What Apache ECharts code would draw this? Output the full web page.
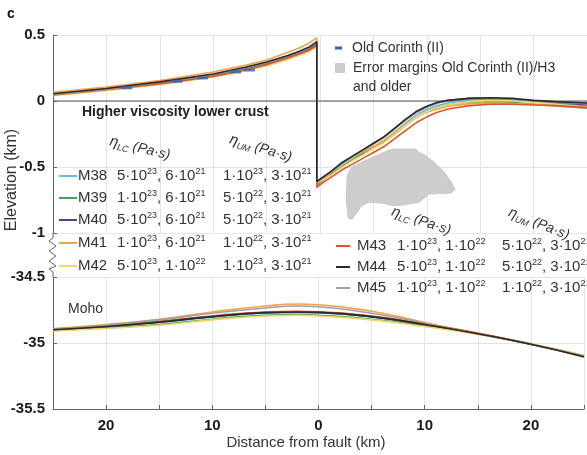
<!DOCTYPE html>
<html><head><meta charset="utf-8">
<script src="https://cdn.jsdelivr.net/npm/echarts@6/dist/echarts.min.js"></script>
<style>html,body{margin:0;padding:0;background:#fff}#c{width:587px;height:455px}</style>
</head><body><div id="c"></div>
<script>
// ---------- data ----------
const models = ['M38','M39','M40','M41','M42','M43','M44','M45'];
const colors = ['#5fbbe9','#3fa35c','#5b3c8c','#f2a24c','#f6d565','#e2542c','#2a2a2a','#a0a0a0'];
const drawOrder = [0, 1, 2, 3, 4, 5, 7, 6];
const lcVisc = ['5·10^23, 6·10^21','1·10^23, 6·10^21','5·10^23, 6·10^21','1·10^23, 6·10^21','5·10^23, 1·10^22','1·10^23, 1·10^22','5·10^23, 1·10^22','1·10^23, 1·10^22'];
const umVisc = ['1·10^23, 3·10^21','5·10^22, 3·10^21','5·10^22, 3·10^21','1·10^22, 3·10^21','1·10^23, 3·10^21','5·10^22, 3·10^21','5·10^22, 3·10^21','1·10^22, 3·10^21'];

// surface elevation (km), x = distance from fault (km, negative = footwall side)
const xTop = [-25,-20,-15,-10,-7,-5,-3,-2,-1,-0.3, -0.3,1,2,3,4,5,6,7,8,9,10,11,12,14,16,18,20,22,25];
const elevM38 = [0.05,0.09,0.135,0.195,0.245,0.285,0.335,0.365,0.395,0.435, -0.64,-0.56,-0.495,-0.445,-0.395,-0.35,-0.30,-0.235,-0.17,-0.105,-0.065,-0.035,-0.015,0.01,0.015,0.01,-0.005,-0.02,-0.04];
const elevM39 = [0.045,0.085,0.13,0.19,0.24,0.28,0.33,0.36,0.39,0.43, -0.63,-0.56,-0.50,-0.45,-0.40,-0.355,-0.31,-0.25,-0.185,-0.125,-0.08,-0.05,-0.03,-0.01,-0.005,-0.01,-0.025,-0.035,-0.055];
const elevM40 = [0.05,0.09,0.14,0.20,0.25,0.29,0.34,0.37,0.40,0.44, -0.62,-0.54,-0.475,-0.425,-0.375,-0.325,-0.275,-0.21,-0.145,-0.085,-0.045,-0.015,0.005,0.02,0.02,0.015,0.0,-0.01,-0.03];
const elevM41 = [0.065,0.105,0.155,0.22,0.27,0.31,0.37,0.40,0.44,0.48, -0.66,-0.54,-0.475,-0.43,-0.385,-0.345,-0.30,-0.24,-0.18,-0.125,-0.085,-0.06,-0.04,-0.02,-0.015,-0.02,-0.025,-0.035,-0.05];
const elevM42 = [0.04,0.08,0.125,0.18,0.23,0.265,0.315,0.345,0.375,0.41, -0.62,-0.565,-0.505,-0.455,-0.41,-0.36,-0.315,-0.25,-0.185,-0.125,-0.08,-0.05,-0.03,-0.005,0.005,0.0,-0.01,-0.025,-0.05];
const elevM43 = [0.045,0.085,0.13,0.185,0.235,0.275,0.325,0.355,0.385,0.42, -0.65,-0.58,-0.525,-0.48,-0.435,-0.39,-0.345,-0.285,-0.225,-0.165,-0.12,-0.085,-0.06,-0.035,-0.025,-0.025,-0.03,-0.035,-0.05];
const elevM44 = [0.055,0.095,0.145,0.205,0.255,0.295,0.345,0.375,0.41,0.45, -0.61,-0.535,-0.47,-0.42,-0.37,-0.32,-0.27,-0.205,-0.14,-0.08,-0.04,-0.01,0.005,0.02,0.025,0.02,0.005,-0.005,-0.015];
const elevM45 = [0.05,0.09,0.14,0.20,0.25,0.29,0.34,0.37,0.405,0.445, -0.615,-0.54,-0.475,-0.425,-0.375,-0.325,-0.275,-0.21,-0.145,-0.085,-0.045,-0.015,0.0,0.015,0.02,0.015,0.0,-0.01,-0.02];

// Moho depth (km)
const xMoho = [-25,-20,-15,-10,-5,-2,0,5,10,15,20,25];
const mohoM38 = [-34.90,-34.875,-34.845,-34.805,-34.775,-34.77,-34.772,-34.805,-34.865,-34.93,-35.01,-35.10];
const mohoM39 = [-34.905,-34.885,-34.86,-34.82,-34.79,-34.785,-34.79,-34.82,-34.87,-34.93,-35.005,-35.095];
const mohoM40 = [-34.90,-34.875,-34.84,-34.80,-34.77,-34.765,-34.768,-34.80,-34.862,-34.93,-35.01,-35.10];
const mohoM41 = [-34.89,-34.86,-34.82,-34.765,-34.72,-34.705,-34.71,-34.76,-34.845,-34.93,-35.01,-35.10];
const mohoM42 = [-34.91,-34.89,-34.865,-34.825,-34.795,-34.79,-34.795,-34.825,-34.875,-34.935,-35.005,-35.095];
const mohoM43 = [-34.90,-34.87,-34.835,-34.795,-34.765,-34.76,-34.763,-34.795,-34.855,-34.925,-35.01,-35.10];
const mohoM44 = [-34.90,-34.875,-34.842,-34.80,-34.77,-34.765,-34.768,-34.80,-34.86,-34.93,-35.01,-35.105];
const mohoM45 = [-34.895,-34.865,-34.825,-34.775,-34.735,-34.72,-34.725,-34.775,-34.85,-34.93,-35.01,-35.10];

// Old Corinth (II) observations
const obsX = [-18.1,-13.4,-11.0,-7.9,-6.6];
const obsY = [0.10,0.15,0.175,0.22,0.235];

// error margins polygon Old Corinth (II)/H3 and older
const errX = [2.5,2.9,4.1,5.3,6.4,6.9,9.0,9.2,9.9,10.7,11.7,12.3,12.7,12.3,10.2,9.3,7.9,6.9,6.0,4.6,3.9,3.4,3.0,2.6,2.4];
const errY = [-0.56,-0.50,-0.45,-0.41,-0.37,-0.36,-0.36,-0.38,-0.41,-0.46,-0.54,-0.61,-0.67,-0.70,-0.71,-0.77,-0.79,-0.80,-0.78,-0.77,-0.80,-0.86,-0.90,-0.89,-0.75];

const zeroX = [-25, 25];
const zeroY = [0, 0];

const elevArrays = [elevM38,elevM39,elevM40,elevM41,elevM42,elevM43,elevM44,elevM45];
const mohoArrays = [mohoM38,mohoM39,mohoM40,mohoM41,mohoM42,mohoM43,mohoM44,mohoM45];

// ---------- chart ----------
const FONT = '"Liberation Sans", Arial, Helvetica, sans-serif';
const chart = echarts.init(document.getElementById('c'), null, {renderer: 'canvas'});

const series = [];
series.push({
  type: 'custom', xAxisIndex: 0, yAxisIndex: 0, z: 1, silent: true,
  data: [0],
  renderItem: function (params, api) {
    const pts = errX.map((x, i) => api.coord([x, errY[i]]));
    return {type: 'polygon', shape: {points: pts}, style: {fill: '#cdcdcd', stroke: 'none'}};
  }
});
series.push({
  type: 'line', xAxisIndex: 0, yAxisIndex: 0, z: 1, silent: true, showSymbol: false,
  data: zeroX.map((x, i) => [x, zeroY[i]]),
  lineStyle: {color: '#555', width: 1}
});
drawOrder.forEach((k, order) => {
  const m = models[k];
  series.push({
    name: m, type: 'line', xAxisIndex: 0, yAxisIndex: 0, z: 3 + order,
    showSymbol: false, smooth: false, silent: true,
    data: xTop.map((x, i) => [x, elevArrays[k][i]]),
    lineStyle: {color: colors[k], width: 1.6}
  });
  series.push({
    name: m + ' moho', type: 'line', xAxisIndex: 1, yAxisIndex: 1, z: 3 + order,
    showSymbol: false, smooth: true, silent: true,
    data: xMoho.map((x, i) => [x, mohoArrays[k][i]]),
    lineStyle: {color: colors[k], width: 1.6}
  });
});
series.push({
  type: 'scatter', xAxisIndex: 0, yAxisIndex: 0, z: 20, silent: true,
  data: obsX.map((x, i) => [x, obsY[i]]),
  symbol: 'rect', symbolSize: [11, 3],
  itemStyle: {color: '#3563b8'}
});

const axisLabelStyle = {color: '#1a1a1a', fontSize: 15, fontWeight: 'bold', fontFamily: FONT};
const splitStyle = {show: true, lineStyle: {color: '#e4e4e4', width: 1}};

function supText(str) {
  return str.replace(/\^(\d+)/g, '{s|$1}');
}
const richVal = {
  s: {fontSize: 9, lineHeight: 8, verticalAlign: 'top', fontFamily: FONT, fill: '#333'}
};
const richHead = {
  e: {fontSize: 15, fontStyle: 'italic', fontFamily: FONT, lineHeight: 18, fill: '#333'},
  sub: {fontSize: 9, fontStyle: 'italic', fontFamily: FONT, lineHeight: 8, verticalAlign: 'bottom', fill: '#333'},
  p: {fontSize: 14, fontStyle: 'italic', fontFamily: FONT, lineHeight: 18, fill: '#333'}
};

const graphics = [];
function txt(x, y, text, opt) {
  graphics.push(Object.assign({
    type: 'text', x: x, y: y, silent: true, z: 50,
    style: Object.assign({text: text, fill: '#333', font: '14px ' + FONT, verticalAlign: 'middle'}, (opt && opt.style) || {})
  }, (opt && opt.el) || {}));
}
function seg(x1, y1, x2, y2, color, w) {
  graphics.push({type: 'line', silent: true, z: 50, shape: {x1, y1, x2, y2}, style: {stroke: color, lineWidth: w || 2}});
}

txt(7, 14, 'c', {style: {font: 'bold 14px ' + FONT, fill: '#111'}});
// y title
graphics.push({type: 'text', silent: true, z: 50, x: 12, y: 180, rotation: Math.PI / 2,
  style: {text: 'Elevation (km)', font: '16px ' + FONT, fill: '#333', align: 'center', verticalAlign: 'middle'}});
// x title
graphics.push({type: 'text', silent: true, z: 50, x: 306, y: 443,
  style: {text: 'Distance from fault (km)', font: '15px ' + FONT, fill: '#333', align: 'center', verticalAlign: 'middle'}});
// axis break zigzag
graphics.push({type: 'polyline', silent: true, z: 50,
  shape: {points: [[53,233],[53,238],[49,241],[56,246],[49,251],[56,256],[49,261],[56,266],[49,269],[53,272],[53,277]]},
  style: {stroke: '#666', lineWidth: 1, fill: 'none'}});

// legend (observations)
graphics.push({type: 'rect', silent: true, z: 50, shape: {x: 335, y: 46.5, width: 7, height: 3}, style: {fill: '#3563b8'}});
txt(352, 48, 'Old Corinth (II)');
graphics.push({type: 'rect', silent: true, z: 50, shape: {x: 335, y: 63, width: 10, height: 10}, style: {fill: '#cdcdcd'}});
txt(353, 68, 'Error margins Old Corinth (II)/H3');
txt(353, 87, 'and older');

txt(82, 112, 'Higher viscosity lower crust', {style: {font: 'bold 14px ' + FONT, fill: '#222'}});

function header(x, y, sub, rot) {
  graphics.push({type: 'text', silent: true, z: 50, x: x, y: y, rotation: rot,
    style: {text: '{e|η}{sub|' + sub + '}{p| (Pa·s)}', rich: richHead, verticalAlign: 'middle', fill: '#333'}});
}
header(110, 141, 'LC', -0.24);
header(230, 139, 'UM', -0.3);
header(392, 211, 'LC', -0.33);
header(509, 212, 'UM', -0.38);

const leftRowY = [176, 198, 220, 243, 266];
const rightRowY = [246, 267, 288];
models.forEach((m, k) => {
  let y, lx1, lx2, nx, cx, ux;
  if (k < 5) { y = leftRowY[k]; lx1 = 59; lx2 = 77; nx = 78; cx = 117; ux = 223; }
  else { y = rightRowY[k - 5]; lx1 = 336; lx2 = 350; nx = 357; cx = 397; ux = 502; }
  seg(lx1, y, lx2, y, colors[k], 2);
  txt(nx, y, m, {style: {font: '15px ' + FONT}});
  graphics.push({type: 'text', silent: true, z: 50, x: cx, y: y,
    style: {text: supText(lcVisc[k]), rich: richVal, font: '15px ' + FONT, fill: '#333', lineHeight: 18, verticalAlign: 'middle'}});
  graphics.push({type: 'text', silent: true, z: 50, x: ux, y: y,
    style: {text: supText(umVisc[k]), rich: richVal, font: '15px ' + FONT, fill: '#333', lineHeight: 18, verticalAlign: 'middle'}});
});
txt(68, 309, 'Moho', {style: {font: '14px ' + FONT}});

const option = {
  animation: false,
  backgroundColor: '#fff',
  grid: [
    {left: 53, top: 35, width: 535, height: 198, containLabel: false},
    {left: 53, top: 277, width: 535, height: 132, containLabel: false}
  ],
  xAxis: [
    {gridIndex: 0, type: 'value', min: -25, max: 25, interval: 5,
      axisLine: {show: false}, axisTick: {show: false}, axisLabel: {show: false}, splitLine: splitStyle},
    {gridIndex: 1, type: 'value', min: -25, max: 25, interval: 5,
      axisLine: {show: true, onZero: false, lineStyle: {color: '#666', width: 1}},
      axisTick: {show: true, inside: true, length: 4, lineStyle: {color: '#666'}},
      axisLabel: Object.assign({margin: 9, formatter: v => (v % 10 === 0 ? String(Math.abs(v)) : '')}, axisLabelStyle),
      splitLine: splitStyle}
  ],
  yAxis: [
    {gridIndex: 0, type: 'value', min: -1, max: 0.5, interval: 0.5,
      axisLine: {show: true, onZero: false, lineStyle: {color: '#666', width: 1}},
      axisTick: {show: true, inside: true, length: 4, lineStyle: {color: '#666'}},
      axisLabel: Object.assign({margin: 8}, axisLabelStyle),
      splitLine: splitStyle},
    {gridIndex: 1, type: 'value', min: -35.5, max: -34.5, interval: 0.5,
      axisLine: {show: true, onZero: false, lineStyle: {color: '#666', width: 1}},
      axisTick: {show: true, inside: true, length: 4, lineStyle: {color: '#666'}},
      axisLabel: Object.assign({margin: 8}, axisLabelStyle),
      splitLine: splitStyle}
  ],
  series: series,
  graphic: graphics
};
chart.setOption(option);
</script>
</body></html>
